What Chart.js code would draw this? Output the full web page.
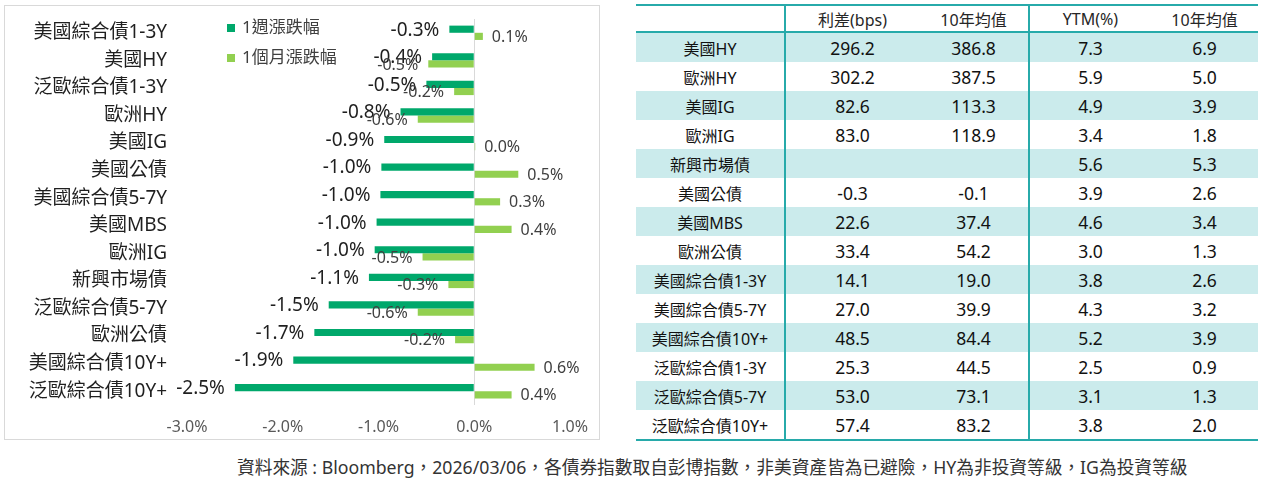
<!DOCTYPE html>
<html>
<head>
<meta charset="utf-8">
<script src="https://cdn.jsdelivr.net/npm/chart.js@4.4.1/dist/chart.umd.min.js"></script>
<style>
  body { margin: 0; background: #fff; width: 1261px; height: 484px; position: relative; overflow: hidden;
         font-family: "Noto Sans", "Noto Sans CJK TC", sans-serif; }
  #box { position: absolute; left: 4px; top: 5px; width: 596px; height: 435px; border: 1px solid #d9d9d9; box-sizing: border-box; }
  #wrap { position: absolute; left: 0; top: 0; width: 594px; height: 433px; }
  .leg { position: absolute; left: 227px; font-size: 17px; color: #404040; white-space: nowrap; line-height: 20px; }
  .leg i { display: inline-block; width: 8px; height: 8px; margin-right: 7px; vertical-align: 1px; }
  #tbl { position: absolute; left: 636px; top: 4px; width: 622px; border-collapse: collapse; table-layout: fixed; }
  #tbl th, #tbl td { padding: 0; text-align: center; white-space: nowrap; }
  #tbl th { font-size: 16px; font-weight: normal; color: #262626; height: 25px; }
  #tbl thead tr { border-top: 2px solid #27aaaa; border-bottom: 2px solid #27aaaa; }
  #tbl td { height: 29px; font-size: 17.5px; color: #111; }
  #tbl td.nm { font-size: 16px; }
  #tbl .sep { border-right: 2px solid #27aaaa; }
  #tbl tbody tr:nth-child(odd) { background: #cbebec; }
  #tbl tbody tr:last-child { border-bottom: 2px solid #27aaaa; }
  #foot { position: absolute; left: 237px; top: 456px; font-size: 17.7px; color: #333; white-space: nowrap; line-height: 22px; }
</style>
</head>
<body>
<div id="box"><div id="wrap"><canvas id="bondChart"></canvas></div></div>
<div class="leg" style="top:17px"><i style="background:#00a86b"></i><span id="leg0"></span></div>
<div class="leg" style="top:47px"><i style="background:#92d050"></i><span id="leg1"></span></div>
<table id="tbl">
  <colgroup><col style="width:149px"><col style="width:134px"><col style="width:110px"><col style="width:122px"><col style="width:107px"></colgroup>
  <thead><tr id="thead"></tr></thead>
  <tbody id="tbody"></tbody>
</table>
<div id="foot">資料來源 : Bloomberg，2026/03/06，各債券指數取自彭博指數，非美資產皆為已避險，HY為非投資等級，IG為投資等級</div>
<script>
// chart data
const categories = ["美國綜合債1-3Y", "美國HY", "泛歐綜合債1-3Y", "歐洲HY", "美國IG", "美國公債", "美國綜合債5-7Y",
  "美國MBS", "歐洲IG", "新興市場債", "泛歐綜合債5-7Y", "歐洲公債", "美國綜合債10Y+", "泛歐綜合債10Y+"];
const seriesNames = ["1週漲跌幅", "1個月漲跌幅"];
const weekChange = [-0.26, -0.44, -0.5, -0.77, -0.94, -0.97, -0.98, -1.02, -1.04, -1.1, -1.52, -1.67, -1.89, -2.5];
const monthChange = [0.09, -0.48, -0.21, -0.59, 0.01, 0.46, 0.27, 0.39, -0.54, -0.27, -0.59, -0.2, 0.63, 0.39];
const xTicks = [-3, -2, -1, 0, 1];

// table data
const tableHeaders = ["", "利差(bps)", "10年均值", "YTM(%)", "10年均值"];
const tableNames = ["美國HY", "歐洲HY", "美國IG", "歐洲IG", "新興市場債", "美國公債", "美國MBS", "歐洲公債",
  "美國綜合債1-3Y", "美國綜合債5-7Y", "美國綜合債10Y+", "泛歐綜合債1-3Y", "泛歐綜合債5-7Y", "泛歐綜合債10Y+"];
const spread = [296.2, 302.2, 82.6, 83.0, null, -0.3, 22.6, 33.4, 14.1, 27.0, 48.5, 25.3, 53.0, 57.4];
const spreadAvg = [386.8, 387.5, 113.3, 118.9, null, -0.1, 37.4, 54.2, 19.0, 39.9, 84.4, 44.5, 73.1, 83.2];
const ytm = [7.3, 5.9, 4.9, 3.4, 5.6, 3.9, 4.6, 3.0, 3.8, 4.3, 5.2, 2.5, 3.1, 3.8];
const ytmAvg = [6.9, 5.0, 3.9, 1.8, 5.3, 2.6, 3.4, 1.3, 2.6, 3.2, 3.9, 0.9, 1.3, 2.0];

const FONT = '"Noto Sans", "Noto Sans CJK TC", sans-serif';
const colors = ["#00a86b", "#92d050"];
const labelFonts = ["19px " + FONT, "16px " + FONT];
const labelColors = ["#1f1f1f", "#404040"];

document.getElementById("leg0").textContent = seriesNames[0];
document.getElementById("leg1").textContent = seriesNames[1];

// table
const fmt = v => (v === null ? "" : v.toFixed(1));
document.getElementById("thead").innerHTML = tableHeaders
  .map((h, i) => `<th${i === 0 || i === 2 ? ' class="sep"' : ""}>${h}</th>`).join("");
document.getElementById("tbody").innerHTML = tableNames.map((n, i) =>
  `<tr><td class="nm sep">${n}</td><td>${fmt(spread[i])}</td><td class="sep">${fmt(spreadAvg[i])}</td>` +
  `<td>${fmt(ytm[i])}</td><td>${fmt(ytmAvg[i])}</td></tr>`).join("");

// bar end labels
const valueLabels = {
  id: "valueLabels",
  afterDatasetsDraw(chart) {
    const ctx = chart.ctx;
    chart.data.datasets.forEach((ds, i) => {
      const meta = chart.getDatasetMeta(i);
      ctx.save();
      ctx.font = labelFonts[i];
      ctx.fillStyle = labelColors[i];
      ctx.textBaseline = "middle";
      meta.data.forEach((bar, j) => {
        const v = ds.data[j];
        const txt = v.toFixed(1) + "%";
        if (v >= 0) {
          ctx.textAlign = "left";
          ctx.fillText(txt, bar.x + 9, bar.y + 1);
        } else {
          ctx.textAlign = "right";
          ctx.fillText(txt, bar.x - 10, bar.y + 1);
        }
      });
      ctx.restore();
    });
  }
};

Chart.defaults.font.family = FONT;

new Chart(document.getElementById("bondChart"), {
  type: "bar",
  data: {
    labels: categories,
    datasets: [
      { label: seriesNames[0], data: weekChange, backgroundColor: colors[0] },
      { label: seriesNames[1], data: monthChange, backgroundColor: colors[1] }
    ]
  },
  options: {
    indexAxis: "y",
    responsive: true,
    maintainAspectRatio: false,
    animation: false,
    categoryPercentage: 0.52,
    barPercentage: 1,
    layout: { padding: { top: 13, right: 29, left: 0, bottom: 0 } },
    plugins: { legend: { display: false }, tooltip: { enabled: false } },
    scales: {
      x: {
        min: xTicks[0],
        max: xTicks[xTicks.length - 1],
        afterBuildTicks: s => { s.ticks = xTicks.map(v => ({ value: v })); },
        afterFit: s => { s.height = 34; s.paddingLeft = 0; s.paddingRight = 0; },
        border: { display: false },
        grid: {
          drawTicks: false,
          color: c => (c.tick && c.tick.value === 0 ? "#d9d9d9" : "rgba(0,0,0,0)")
        },
        ticks: {
          padding: 13,
          color: "#595959",
          font: { size: 16 },
          callback: v => v.toFixed(1) + "%"
        }
      },
      y: {
        afterFit: s => { s.width = 182; s.paddingTop = 0; s.paddingBottom = 0; },
        border: { display: false },
        grid: { display: false, drawTicks: false },
        ticks: { padding: 20, color: "#1f1f1f", font: { size: 19 } }
      }
    }
  },
  plugins: [valueLabels]
});
</script>
</body>
</html>
